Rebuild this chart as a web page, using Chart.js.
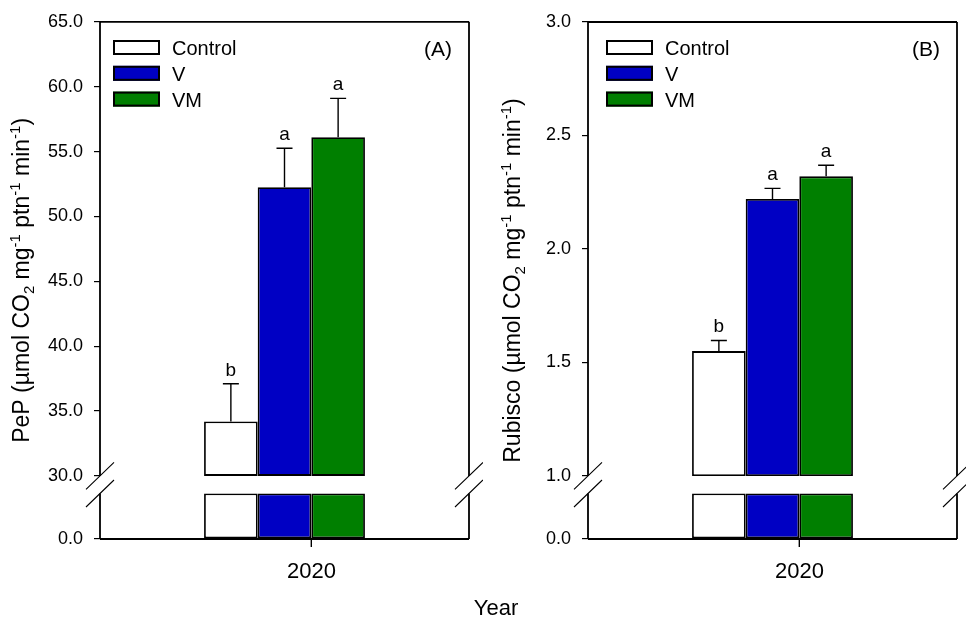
<!DOCTYPE html>
<html>
<head>
<meta charset="utf-8">
<script src="https://cdn.jsdelivr.net/npm/chart.js@4.4.1/dist/chart.umd.min.js"></script>
<style>
  html, body { margin: 0; padding: 0; background: #fff; }
  #wrap { position: relative; width: 966px; height: 619px; font-family: "Liberation Sans", Arial, sans-serif; }
  .panel { position: absolute; top: 0; width: 483px; height: 619px; }
  #year { position: absolute; left: 446px; top: 597px; width: 100px; text-align: center; font-size: 22px; line-height: 22px; color: #000; }
</style>
</head>
<body>
<div id="wrap">
  <div class="panel" style="left:0"><canvas id="pep" width="483" height="619"></canvas></div>
  <div class="panel" style="left:483px"><canvas id="rub" width="483" height="619"></canvas></div>
  <div id="year">Year</div>
</div>
<script>
// data
const YEARS = ['2020'];
const SERIES = ['Control', 'V', 'VM'];
const COLORS = ['#ffffff', '#0000c4', '#007f00'];

const PEP_MEAN = [34.2, 52.25, 56.1];
const PEP_ERR = [2.9, 3.0, 3.0];
const PEP_LETTERS = ['b', 'a', 'a'];
const PEP_TICKS = [0, 30, 35, 40, 45, 50, 55, 60, 65];

const RUB_MEAN = [1.55, 2.22, 2.32];
const RUB_ERR = [0.047, 0.047, 0.049];
const RUB_LETTERS = ['b', 'a', 'a'];
const RUB_TICKS = [0, 1.0, 1.5, 2.0, 2.5, 3.0];

const FONT = '"Liberation Sans", Arial, sans-serif';

// linear scale with a skipped interval (axis break)
const LinearScale = Chart.LinearScale || Chart.registry.getScale('linear');
class BrokenScale extends LinearScale {
  getPixelForValue(value) {
    if (value === null || value === undefined || isNaN(value)) return NaN;
    const b = this.options.brk;
    let d;
    if (value <= b.from) d = (value - this.min) / (b.from - this.min) * b.low;
    else if (value >= b.to) d = b.high + (value - b.to) / (this.max - b.to) * (1 - b.high);
    else d = b.low + (value - b.from) / (b.to - b.from) * (b.high - b.low);
    return this.getPixelForDecimal(d);
  }
}
BrokenScale.id = 'broken';
BrokenScale.defaults = LinearScale.defaults;
Chart.register(BrokenScale);

function drawRich(ctx, parts, x, y) {
  // parts drawn rotated -90deg, centred on y, baseline at x
  const big = 23, small = 15;
  ctx.save();
  ctx.translate(x, y);
  ctx.rotate(-Math.PI / 2);
  ctx.fillStyle = '#000';
  ctx.textBaseline = 'alphabetic';
  let total = 0;
  parts.forEach(p => {
    ctx.font = (p[1] === 'n' ? big : small) + 'px ' + FONT;
    total += ctx.measureText(p[0]).width;
  });
  let cx = -total / 2;
  parts.forEach(p => {
    ctx.font = (p[1] === 'n' ? big : small) + 'px ' + FONT;
    const dy = p[1] === 'sup' ? -9 : p[1] === 'sub' ? 5 : 0;
    ctx.fillText(p[0], cx, dy);
    cx += ctx.measureText(p[0]).width;
  });
  ctx.restore();
}

function makePanel(id, p) {
  const datasets = [];
  SERIES.forEach((name, i) => {
    const common = {
      label: name, stack: name, backgroundColor: COLORS[i], borderColor: '#000',
      borderWidth: 1.8, borderSkipped: false, barPercentage: 1, categoryPercentage: 0.436
    };
    datasets.push(Object.assign({}, common, { data: [[0, p.brk.from]] }));
    datasets.push(Object.assign({}, common, { data: [[p.brk.to, p.mean[i]]], upper: true, series: i }));
  });

  const decor = {
    id: 'decor',
    afterDatasetsDraw(chart) {
      const ctx = chart.ctx, y = chart.scales.y;
      ctx.save();
      ctx.strokeStyle = '#000';
      ctx.lineWidth = 1.4;
      ctx.fillStyle = '#000';
      ctx.font = '19px ' + FONT;
      ctx.textAlign = 'center';
      ctx.textBaseline = 'alphabetic';
      chart.data.datasets.forEach((ds, di) => {
        if (!ds.upper) return;
        const el = chart.getDatasetMeta(di).data[0];
        const i = ds.series;
        const yt = y.getPixelForValue(p.mean[i] + p.err[i]);
        ctx.beginPath();
        ctx.moveTo(el.x, el.y);
        ctx.lineTo(el.x, yt);
        ctx.moveTo(el.x - 8, yt);
        ctx.lineTo(el.x + 8, yt);
        ctx.stroke();
        ctx.fillText(p.letters[i], el.x, yt - 8);
      });
      ctx.restore();
    },
    afterDraw(chart) {
      const ctx = chart.ctx, y = chart.scales.y;
      const { left, right, top, bottom } = chart.chartArea;
      const gTop = y.getPixelForValue(p.brk.to);
      const gBot = y.getPixelForValue(p.brk.from);
      ctx.save();
      ctx.strokeStyle = '#000';
      ctx.lineWidth = 1.8;
      ctx.beginPath();
      ctx.moveTo(left, top); ctx.lineTo(right, top);
      ctx.moveTo(left, bottom); ctx.lineTo(right, bottom);
      [left, right].forEach(x => {
        ctx.moveTo(x, top); ctx.lineTo(x, gTop);
        ctx.moveTo(x, gBot); ctx.lineTo(x, bottom);
      });
      ctx.stroke();
      // break marks
      ctx.lineWidth = 1.1;
      ctx.beginPath();
      [left, right].forEach(x => {
        [gTop, gBot].forEach(yc => {
          ctx.moveTo(x - 14, yc + 13.5);
          ctx.lineTo(x + 14, yc - 13.5);
        });
      });
      ctx.stroke();
      // x tick mark at the V/VM boundary
      const vm = chart.getDatasetMeta(5).data[0];
      const tx = vm.x - vm.width / 2;
      ctx.lineWidth = 1.4;
      ctx.beginPath();
      ctx.moveTo(tx, bottom); ctx.lineTo(tx, bottom + 8);
      ctx.stroke();
      // legend
      SERIES.forEach((name, i) => {
        const bx = left + p.legX, by = 40 + i * 25.8;
        ctx.fillStyle = COLORS[i];
        ctx.fillRect(bx, by, 47, 15);
        ctx.lineWidth = 2;
        ctx.strokeRect(bx + 1, by + 1, 45, 13);
        ctx.fillStyle = '#000';
        ctx.font = '20px ' + FONT;
        ctx.textAlign = 'left';
        ctx.textBaseline = 'alphabetic';
        ctx.fillText(name, bx + 59, by + 15);
      });
      ctx.font = '21px ' + FONT;
      ctx.textAlign = 'right';
      ctx.fillText(p.tag, right - 17, 56);
      ctx.restore();
      drawRich(ctx, p.title, p.titleX, (top + bottom) / 2);
    }
  };

  return new Chart(document.getElementById(id), {
    type: 'bar',
    data: { labels: YEARS, datasets },
    options: {
      responsive: false, animation: false, devicePixelRatio: 1, events: [],
      layout: { padding: { left: 0, right: p.padRight, top: p.padTop, bottom: 0 } },
      plugins: { legend: { display: false }, tooltip: { enabled: false } },
      scales: {
        x: {
          type: 'category',
          grid: { display: false, drawTicks: false },
          border: { display: false },
          ticks: { color: '#000', font: { size: 22, family: FONT }, padding: 20, labelOffset: 27 },
          afterFit: s => { s.height = 80; }
        },
        y: {
          type: 'broken', min: 0, max: p.max, stacked: false,
          brk: { from: p.brk.from, to: p.brk.to, low: 0.088, high: 0.122 },
          grid: { display: true, drawOnChartArea: false, drawTicks: true, tickLength: 6, color: '#000', lineWidth: 1.2 },
          border: { display: false },
          ticks: {
            autoSkip: false, color: '#000', padding: 11,
            font: { size: 18, family: FONT },
            callback: v => Number(v).toFixed(1)
          },
          afterBuildTicks: s => { s.ticks = p.ticks.map(v => ({ value: v })); },
          afterFit: s => { s.width = p.axisW; }
        }
      }
    },
    plugins: [decor]
  });
}

makePanel('pep', {
  mean: PEP_MEAN, err: PEP_ERR, letters: PEP_LETTERS, ticks: PEP_TICKS,
  max: 65, brk: { from: 3, to: 30 }, tag: '(A)',
  axisW: 100, padRight: 14, padTop: 21, legX: 13, titleX: 29,
  title: [['PeP (\u00b5mol CO', 'n'], ['2', 'sub'], [' mg', 'n'], ['-1', 'sup'], [' ptn', 'n'], ['-1', 'sup'], [' min', 'n'], ['-1', 'sup'], [')', 'n']]
});

makePanel('rub', {
  mean: RUB_MEAN, err: RUB_ERR, letters: RUB_LETTERS, ticks: RUB_TICKS,
  max: 3, brk: { from: 0.1, to: 1.0 }, tag: '(B)',
  axisW: 105, padRight: 9, padTop: 22, legX: 18, titleX: 37,
  title: [['Rubisco (\u00b5mol CO', 'n'], ['2', 'sub'], [' mg', 'n'], ['-1', 'sup'], [' ptn', 'n'], ['-1', 'sup'], [' min', 'n'], ['-1', 'sup'], [')', 'n']]
});
</script>
</body>
</html>
